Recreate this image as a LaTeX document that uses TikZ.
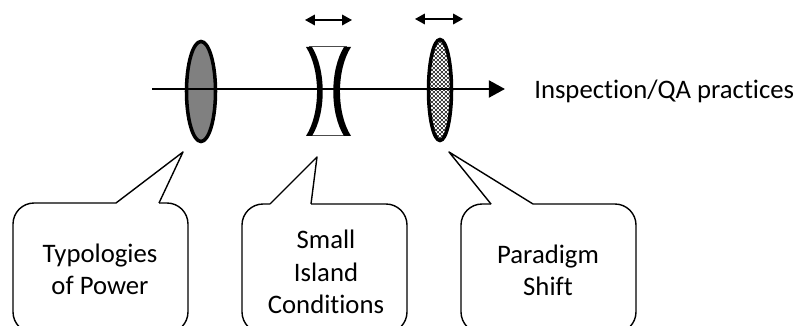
\documentclass[tikz,border=0pt]{standalone}
\usepackage{fontspec}
\setmainfont[RawFeature={-liga}]{Carlito}
\usetikzlibrary{arrows.meta,patterns,shapes.geometric}

\pgfdeclarepatternformonly{lenscheck}{\pgfqpoint{0pt}{0pt}}{\pgfqpoint{2.84pt}{2.84pt}}{\pgfqpoint{2.84pt}{2.84pt}}{
    \pgfpathrectangle{\pgfqpoint{0pt}{0pt}}{\pgfqpoint{1.42pt}{1.42pt}}
    \pgfpathrectangle{\pgfqpoint{1.42pt}{1.42pt}}{\pgfqpoint{1.42pt}{1.42pt}}
    \pgfusepath{fill}
}

\tikzset{
    lens/.style={draw, ellipse, line width=2.5pt, inner sep=0pt},
    bubble/.style={draw, line width=1pt, line join=round},
    shifted/.style={line width=1.1pt, {Triangle[length=7pt,width=7.5pt]}-{Triangle[length=7pt,width=7.5pt]}},
    caption/.style={align=center, inner sep=0pt, font=\fontsize{19}{23}\selectfont}
}

\begin{document}
\begin{tikzpicture}[x=0.025cm, y=-0.025cm]
                    \useasboundingbox (0,0) rectangle (796,326);

                    \node[lens, fill={rgb,255:red,128;green,128;blue,128}, minimum width=0.725cm, minimum height=2.5cm] (power) at (201,91.5) {};
                    \node[lens, pattern=lenscheck, pattern color=black!75, minimum width=0.575cm, minimum height=2.525cm] (shift) at (440,90) {};

                    % concave lens
                    \draw[line width=0.7pt, draw=black!70] (309,46) -- (347,46);
                    \draw[line width=0.7pt, draw=black!70] (309,135.5) -- (347,135.5);
                    \fill (306,47) .. controls (320.7,70) and (320.7,113) .. (306,136) -- (312,136)
                        .. controls (326.3,113) and (326.3,70) .. (312,47) -- cycle;
                    \fill (351,47) .. controls (336.3,70) and (336.3,113) .. (351,136) -- (344,136)
                        .. controls (329.7,113) and (329.7,70) .. (344,47) -- cycle;

                    % axis
                    \coordinate (start) at (152,89);
                    \coordinate (end) at (505,89);
                    \draw[line width=1.9pt, -{Triangle[length=11.5pt,width=12pt]}] (start) -- (end);
                    \node[caption, anchor=west] (practices) at (534,91) {Inspection/QA practices};

                    % shifts
                    \coordinate (islandl) at (305,20);
                    \coordinate (islandr) at (352,20);
                    \coordinate (shiftl) at (415,19);
                    \coordinate (shiftr) at (463,19);
                    \draw[shifted] (islandl) -- (islandr);
                    \draw[shifted] (shiftl) -- (shiftr);

                    % callouts
                    \draw[bubble, rounded corners=15pt] (159,203) -- (188,203) -- (188,333) -- (13,333) -- (13,203) -- (116,203);
                    \draw[bubble] (116,203) -- (183,152) -- (159,203);
                    \draw[bubble, rounded corners=15pt] (311,204) -- (407,204) -- (407,333) -- (242,333) -- (242,204) -- (270,204);
                    \draw[bubble] (270,204) -- (317,157) -- (311,204);
                    \draw[bubble, rounded corners=15pt] (533,204) -- (636,204) -- (636,333) -- (461,333) -- (461,204) -- (491,204);
                    \draw[bubble] (491,204) -- (449,152) -- (533,204);

                    \node[caption] (typologies) at (100,269) {Typologies\\of Power};
                    \node[caption] (island) at (326,272) {Small\\Island\\Conditions};
                    \node[caption] (paradigm) at (548,270) {Paradigm\\Shift};
                \end{tikzpicture}
\end{document}
